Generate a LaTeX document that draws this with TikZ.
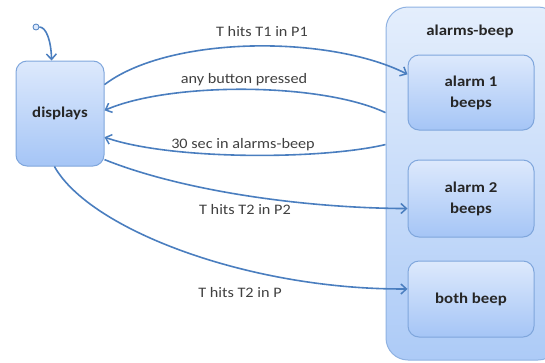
\documentclass[tikz,border=0pt]{standalone}
\usepackage{fontspec}
\setmainfont[FakeStretch=1.12]{Carlito}
\usetikzlibrary{arrows.meta}
\definecolor{lineblue}{HTML}{4A7EBF}
\definecolor{boxtop}{HTML}{DDE9FC}
\definecolor{boxbot}{HTML}{A5C5F6}
\definecolor{boxedge}{HTML}{7FA6DC}
\definecolor{contop}{HTML}{E4EEFC}
\definecolor{conbot}{HTML}{ADCBF7}
\definecolor{conedge}{HTML}{8FB2E2}
\definecolor{labtext}{HTML}{404040}
\tikzset{
  statebox/.style={draw=boxedge, line width=1pt, rounded corners=11pt, top color=boxtop, bottom color=boxbot, inner sep=0pt, align=center, font=\fontsize{15}{21}\selectfont\bfseries, text=black!85},
  trans/.style={draw=lineblue, line width=1.6pt, -{Straight Barb[length=5.5pt,width=10pt,line width=1.5pt]}},
  lab/.style={font=\fontsize{14.5}{17}\selectfont, text=labtext, inner sep=0pt}
}
\begin{document}
\begin{tikzpicture}[x=1pt,y=-1pt]
\useasboundingbox (0,0) rectangle (545,362);
\begin{scope}
\clip (0,0) rectangle (545,362);
\node[draw=conedge, line width=1pt, rounded corners=22pt, top color=contop, bottom color=conbot, minimum width=174pt, minimum height=353pt, inner sep=0pt] (ab) at (473,183.5) {};
\end{scope}
\node[font=\fontsize{15}{17}\selectfont\bfseries, text=black!85] (abl) at (470,31) {alarms-beep};
\node[statebox, minimum width=88pt, minimum height=105pt] (disp) at (60,113.5) {displays};
\node[statebox, minimum width=126pt, minimum height=75pt] (a1) at (471,92.5) {alarm 1\\beeps};
\node[statebox, minimum width=126pt, minimum height=77pt] (a2) at (471,198.5) {alarm 2\\beeps};
\node[statebox, minimum width=126pt, minimum height=76pt] (both) at (471,299) {both beep};
\node[circle, draw=lineblue, fill=boxtop, line width=0.8pt, minimum size=6pt, inner sep=0pt] (init) at (36,27) {};
\draw[trans] (init) .. controls (46,27) and (51,40) .. (disp.99.7);
\draw[trans] (disp.33.8) .. controls (170,35) and (330,35) .. (a1.164.5);
\draw[trans] (ab.141.8) .. controls (320,82) and (170,82) .. (disp.4.5);
\draw[trans] (ab.156.7) .. controls (320,160) and (170,160) .. (disp.-28);
\draw[trans] (disp.-46.6) .. controls (180,190) and (300,208) .. (a2.-171.4);
\draw[trans] (disp.-96) .. controls (90,230) and (250,290) .. (both.171);
\node[lab] (l1) at (262,32) {T hits T1 in P1};
\node[lab] (l2) at (244,80) {any button pressed};
\node[lab] (l3) at (243,145) {30 sec in alarms-beep};
\node[lab] (l4) at (245,210) {T hits T2 in P2};
\node[lab] (l5) at (240,293) {T hits T2 in P};
\end{tikzpicture}
\end{document}
